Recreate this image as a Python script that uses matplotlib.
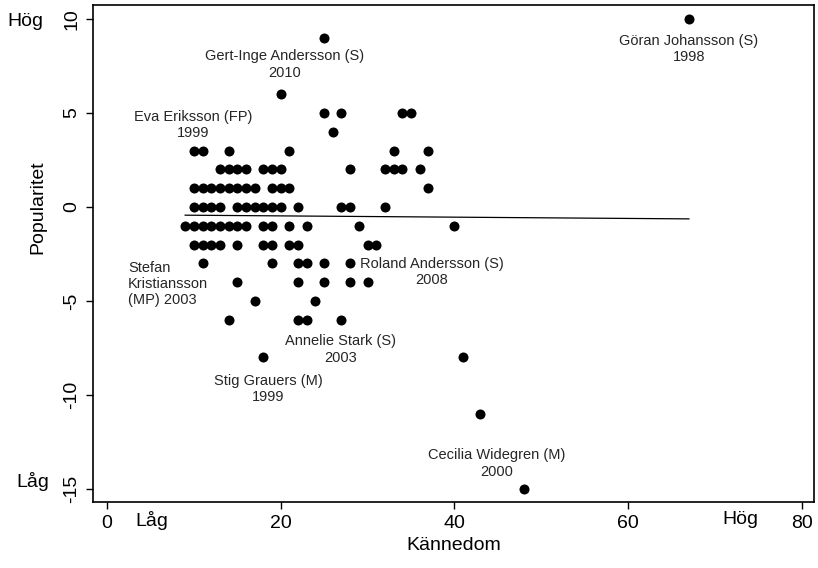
import matplotlib
matplotlib.use("Agg")
import matplotlib.pyplot as plt
import numpy as np

# Kännedom (x) and Popularitet (y) values, grouped by popularity row
rows = {
    10: [67],
    9: [25],
    6: [20],
    5: [25, 27, 34, 35],
    4: [26],
    3: [10, 11, 14, 21, 33, 37],
    2: [13, 14, 15, 16, 18, 19, 20, 28, 32, 33, 34, 36],
    1: [10, 11, 12, 13, 14, 15, 16, 17, 19, 20, 21, 37],
    0: [10, 11, 12, 13, 15, 16, 17, 18, 19, 20, 22, 27, 28, 32],
    -1: [9, 10, 11, 12, 13, 14, 15, 16, 18, 19, 21, 23, 29, 40],
    -2: [10, 11, 12, 13, 15, 18, 19, 21, 22, 30, 31],
    -3: [11, 19, 22, 23, 25, 28],
    -4: [15, 22, 25, 28, 30],
    -5: [17, 24],
    -6: [14, 22, 23, 27],
    -8: [18, 41],
    -11: [43],
    -15: [48],
}
kannedom = [x for y, xs in rows.items() for x in xs]
popularitet = [y for y, xs in rows.items() for x in xs]

labels = ["Gert-Inge Andersson (S)\n2010", "Göran Johansson (S)\n1998",
          "Eva Eriksson (FP)\n1999", "Roland Andersson (S)\n2008",
          "Annelie Stark (S)\n2003", "Stig Grauers (M)\n1999",
          "Cecilia Widegren (M)\n2000"]
label_x = [20.4, 67, 9.9, 37.4, 26.9, 18.6, 44.9]
label_y = [7.58, 8.4, 4.36, -3.48, -7.58, -9.7, -13.64]

xticks = [0, 20, 40, 60, 80]
yticks = [-15, -10, -5, 0, 5, 10]

plt.rcParams['font.family'] = ['Liberation Sans', 'DejaVu Sans']

fig = plt.figure(figsize=(8.18, 5.68), dpi=100)
ax = fig.add_axes([93/818, 1-502/568, (814-93)/818, (502-5)/568])

x = np.array(kannedom, dtype=float)
y = np.array(popularitet, dtype=float)
ax.scatter(x, y, s=52, color='black', zorder=3, linewidths=0)

b, a = np.polyfit(x, y, 1)
xl = np.array([x.min(), x.max()])
ax.plot(xl, a + b*xl, color='black', lw=0.9, zorder=2)

txtcol = '#262626'
for t, lx, ly in zip(labels, label_x, label_y):
    ax.text(lx, ly, t, ha='center', va='center', fontsize=10.5, color=txtcol,
            linespacing=1.2)
ax.text(2.42, -4.1, "Stefan\nKristiansson\n(MP) 2003", ha='left', va='center',
        fontsize=10.5, color=txtcol, linespacing=1.2)

ax.set_xlim(-1.61, 81.4)
ax.set_ylim(-15.69, 10.74)
ax.set_xticks(xticks)
ax.set_yticks(yticks)
ax.set_yticklabels([str(v) for v in yticks], rotation=90, va='center')
ax.tick_params(axis='both', direction='out', length=5, width=1, labelsize=14, color='black')
ax.tick_params(axis='x', pad=4)
ax.tick_params(axis='y', pad=4)
for s in ax.spines.values():
    s.set_linewidth(1.2)

ax.set_xlabel("Kännedom", fontsize=14, labelpad=4)
ax.set_ylabel("Popularitet", fontsize=14, labelpad=8)
ax.yaxis.set_label_coords(-0.064, (0 + 15.69) / (10.74 + 15.69))

# Low/high markers
ax.text(-9.44, 9.84, "Hög", ha='center', va='center', fontsize=14, clip_on=False)
ax.text(-8.5, -14.6, "Låg", ha='center', va='center', fontsize=14, clip_on=False)
ax.text(5.2, -16.7, "Låg", ha='center', va='center', fontsize=14, clip_on=False)
ax.text(72.9, -16.6, "Hög", ha='center', va='center', fontsize=14, clip_on=False)

fig.savefig("out.png", dpi=100)
